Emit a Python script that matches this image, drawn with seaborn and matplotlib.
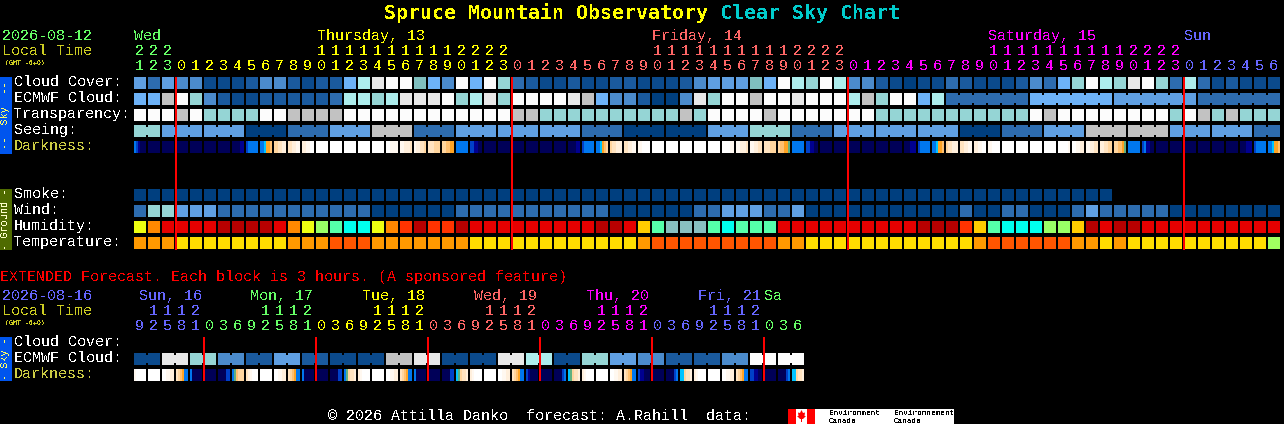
import numpy as np
import matplotlib
matplotlib.use("Agg")
import matplotlib.pyplot as plt
import seaborn as sns
from matplotlib.colors import ListedColormap
from matplotlib.patches import Polygon, Rectangle

W, H = 1284, 424

# ---- colour scales ----
cloud_colors = ["#003F7F", "#0B4A8C", "#1A5A9E", "#2D6CAF", "#4B8BCC", "#5F9FE2", "#6DB2F7",
                "#7FBFBF", "#95D5D5", "#ADEDED", "#C2C2C2", "#E8E8E8", "#FCFCFC"]
humidity_colors = {"Y": "#EEFF11", "O": "#FF8800", "R": "#E60000", "K": "#B80000", "P": "#FF3300",
                   "A": "#FFCC00", "G": "#99FF66", "M": "#55FFAA", "C": "#00FFEE", "T": "#88C0C0"}
temp_colors = {"O": "#FF9900", "Y": "#FFDD00", "D": "#FF5500", "L": "#A0FF60"}
dark_colors = {"W": "#FFFFFF", "V": "#FFF8F0", "U": "#FFEFDC", "T": "#FFE3C0", "S": "#FFD59E",
               "R": "#FFC070", "Q": "#FFA424", "G": "#60B080", "C": "#00C4FF", "B": "#0077EE",
               "N": "#0040C8", "M": "#000090", "L": "#000058"}

# ---- main chart values, one per block ----
cloud_cover = [5, 3, 5, 4, 4, 1, 1, 1, 2, 4, 4, 2, 1, 2, 2, 6, 9, 11, 12, 12, 7,
               6, 4, 12, 6, 12, 8, 3, 2, 1, 1, 2, 1, 1, 2, 2, 1, 1, 1, 2, 4, 5, 5, 5, 7, 6, 12, 9, 8, 12, 9,
               4, 4, 2, 1, 0, 1, 1, 3, 2, 1, 1, 1, 2, 4, 3, 6, 8, 12, 9, 8, 11, 12, 8, 3, 9, 3, 1, 2, 1, 1, 1]
ecmwf_cloud = [6, 6, 10, 12, 8, 4, 2, 1, 1, 2, 2, 2, 2, 2, 3, 9, 9, 8, 9, 11, 11,
               11, 12, 8, 9, 11, 8, 12, 12, 12, 12, 11, 10, 6, 4, 4, 2, 0, 0, 4, 11, 8, 12, 12, 10, 12, 12, 11, 12, 12, 12, 9,
               10, 8, 12, 12, 6, 9, 3, 3, 3, 3, 3, 3, 6, 6, 6, 6, 6, 6, 5, 5, 5, 5, 5, 5, 3, 3, 3, 3, 3, 3]
ecmwf_spans = [1] * 58 + [6, 6, 6, 6]
transparency = [12, 12, 12, 10, 12, 8, 8, 8, 8, 12, 12, 10, 10, 10, 10, 12, 12, 12, 12, 12, 12,
                12, 12, 12, 12, 12, 12, 10, 10, 8, 8, 8, 8, 8, 8, 8, 8, 8, 8, 10, 8, 12, 12, 12, 12, 10, 12, 12, 12, 12, 12, 12,
                12, 8, 8, 8, 8, 8, 8, 8, 8, 8, 8, 8, 12, 10, 12, 12, 12, 12, 12, 12, 12, 12, 8, 12, 10, 8, 10, 8, 8, 8]
seeing_spans = [2] + [3] * 26 + [2]
seeing = [8, 5, 5, 0, 3, 5, 10, 3, 5, 5, 5, 3, 0, 0, 5, 8, 3, 5, 5, 5, 0, 3, 5, 10, 10, 5, 5, 3]
darkness = ["BNMLLL", "LLLLLL", "LLLLLL", "LLLLLL", "LLLLLL", "LLLLLL", "LLLLLL", "LLLLMM", "NBBBBB", "BBCQQR",
            "SSTTUU", "TTUUVV", "UUVVWW", "WWWWWW", "WWWWWW", "WWWWWW", "WWWWWW", "WWWWWW", "WWVVVV", "VVUUUT",
            "VUUTTS", "TTTSSS", "SSRRQQ", "BBBBBB", "NNMMLL", "LLLLLL", "LLLLLL", "LLLLLL", "LLLLLL", "LLLLLL",
            "LLLLLL", "LLLLMM", "NBBBBB", "BBCQRS", "STTUUU", "TTUUVV", "VVWWWW", "WWWWWW", "WWWWWW", "WWWWWW",
            "WWWWWW", "WWWWWW", "WWWWVV", "VVUUUT", "VVUUTT", "TTTSSS", "SRRQQG", "BBBBBB", "NNMMLL", "LLLLLL",
            "LLLLLL", "LLLLLL", "LLLLLL", "LLLLLL", "LLLLLL", "LLLMMM", "NBBBBB", "BBCQQR", "STTUUU", "TTUUVV",
            "UUVVWW", "VVWWWW", "WWWWWW", "WWWWWW", "WWWWWW", "WWWWWW", "WWWWWV", "WWVVUU", "VVUUTT", "UUTTSS",
            "SSRRQG", "BBBBBB", "NBMMLL", "LLLLLL", "LLLLLL", "LLLLLL", "LLLLLL", "LLLLLL", "LLLLLL", "LLLMMM",
            "NBBBBB", "BBCQQR"]
smoke = [0] * 70
wind = [3, 8, 8, 5, 5, 5, 3, 3, 3, 3, 3, 3, 3, 3, 3, 3, 3, 0, 0, 0, 0,
        0, 0, 3, 3, 3, 3, 3, 3, 3, 3, 3, 3, 3, 0, 0, 0, 0, 0, 0, 3, 3, 5, 5, 5, 3, 3, 5, 0, 0, 0, 0,
        0, 0, 0, 0, 0, 0, 0, 3, 0, 0, 3, 3, 0, 0, 0, 3, 5, 3, 3, 3, 3, 3, 0, 0, 0, 0, 0, 0, 0, 0]
humidity = "YORRRRKKKKROYGMCCYOPK" "PPKRRRRRRRRRKKRAMTTTMCMMMRRRRRR" "RRRRKKKPAMCCCGGAKRKKRRRRRRRRRR"
temperature = "OOOYYYYYYYYOOODDDOOOO" "OOOYYYYYYYYYYYYODDDDDDDDDOOYYYY" "YYYYYYYYODDDDDDOOYOYYYYYYYYYYL"

# main header
hours = [21, 22, 23] + list(range(24)) * 3 + list(range(7))
hour_colors = ["#66FF66", "#FFFF00", "#FF6666", "#FF00FF", "#6666FF"]
day_names = ["Wed", "Thursday, 13", "Friday, 14", "Saturday, 15", "Sun"]
day_x = [134, 317, 652, 988, 1184]

# ---- extended forecast ----
ext_ecmwf = [1, 11, 8, 4, 2, 5, 2, 1, 1, 10, 11, 1, 1, 11, 9, 1, 8, 5, 4, 2, 2, 4, 12, 12]
ext_darkness = ["VWWWWW", "WWWWWW", "WWVVUU", "TSRQBB", "BLLLLL", "LLLLLL", "LLLLNN", "BGRSSS",
                "TUVWWW", "WWWWWW", "WWVVUU", "TSRQBB", "BLLLLL", "LLLLLL", "LLLLNN", "BGSTTU",
                "UVWWWW", "WWWWWW", "WWVVUU", "TSRQBB", "BLLLLL", "LLLLLL", "LLLLNN", "CGSTTU",
                "UVWWWW", "WWWWWW", "WWVVUU", "TSRQBB", "NMLLLL", "LLLLLL", "LLLLNB", "CGSTTU",
                "UVWWWW", "WWWWWW", "WWVVUU", "TSRQBB", "NMMLLL", "LLLLLL", "LLLLNB", "CCSTTU",
                "UVWWWW", "WWWWWW", "WWVVUU", "TSRQBB", "NNMMLL", "LLLLLL", "LLLLNB", "CCSTTU"]
ext_hours = [9, 12, 15, 18, 21, 0, 3, 6] * 6
ext_hour_colors = ["#6666FF", "#66FF66", "#FFFF00", "#FF6666", "#FF00FF", "#6666FF", "#66FF66"]
ext_day_names = ["Sun, 16", "Mon, 17", "Tue, 18", "Wed, 19", "Thu, 20", "Fri, 21", "Sa"]
ext_day_x = [139, 250, 362, 474, 586, 698, 764]

# ---- colour codes for the heatmap ----
all_colors = list(cloud_colors)
def add_scale(scale):
    start = len(all_colors)
    all_colors.extend(scale.values())
    return {k: start + i for i, k in enumerate(scale)}
hum_code = add_scale(humidity_colors)
temp_code = add_scale(temp_colors)
dark_code = add_scale(dark_colors)
cmap = ListedColormap(all_colors)

# every block is 6x6 cells of 2 px, plus one gap cell on the right
def fill_row(grid, top, codes, spans=None):
    for i, c in enumerate(codes):
        grid[top:top + 6, i * 7:i * 7 + 6] = c
    if spans:
        start = 0
        for n in spans:
            for i in range(start, start + n - 1):
                grid[top + 1:top + 5, i * 7 + 6] = codes[i]
            start += n

def fill_shaded(grid, top, blocks):
    for i, block in enumerate(blocks):
        for j, ch in enumerate(block):
            grid[top:top + 6, i * 7 + j] = dark_code[ch]

main_grid = np.full((86, 82 * 7), np.nan)
fill_row(main_grid, 0, cloud_cover)
fill_row(main_grid, 8, ecmwf_cloud, ecmwf_spans)
fill_row(main_grid, 16, transparency)
fill_row(main_grid, 24, np.repeat(seeing, seeing_spans), seeing_spans)
fill_shaded(main_grid, 32, darkness)
fill_row(main_grid, 56, smoke)
fill_row(main_grid, 64, wind)
fill_row(main_grid, 72, [hum_code[c] for c in humidity])
fill_row(main_grid, 80, [temp_code[c] for c in temperature])

ext_grid = np.full((22, 48 * 7), np.nan)
fill_row(ext_grid, 8, np.repeat(ext_ecmwf, 2), [2] * 24)
fill_shaded(ext_grid, 16, ext_darkness)

# ---- figure ----
sns.set_theme(style="dark", rc={"figure.facecolor": "black", "axes.facecolor": "black", "text.antialiased": False})
plt.rcParams["font.family"] = ["Liberation Mono", "DejaVu Sans Mono"]
fig = plt.figure(figsize=(W / 100, H / 100), dpi=100, facecolor="black")

def pixel_axes(x, y, w, h):
    a = fig.add_axes([x / W, 1 - (y + h) / H, w / W, h / H])
    a.set_facecolor("black")
    return a

def put(x, y, s, color="white", size=10.8, **kw):
    fig.text(x / W, 1 - y / H, s, color=color, fontsize=size, va="baseline", **kw)

ax = pixel_axes(134, 77, 1148, 172)
sns.heatmap(main_grid, ax=ax, cmap=cmap, vmin=-0.5, vmax=len(all_colors) - 0.5, cbar=False,
            xticklabels=False, yticklabels=False)
midnights = [i * 7 for i, h in enumerate(hours) if h == 0]
ax.vlines(midnights, 0, 86.5, color="#FF0000", lw=1.44, clip_on=False, antialiased=False)

ax2 = pixel_axes(134, 337, 672, 44)
sns.heatmap(ext_grid, ax=ax2, cmap=cmap, vmin=-0.5, vmax=len(all_colors) - 0.5, cbar=False,
            xticklabels=False, yticklabels=False)
ext_midnights = [i * 7 for i, h in enumerate(ext_hours) if h == 0]
ax2.vlines(ext_midnights, 0, 22, color="#FF0000", lw=1.44, clip_on=False, antialiased=False)

# title
put(384, 19, "Spruce Mountain Observatory", "#FFFF00", 14.4, fontweight="bold", family="DejaVu Sans Mono")
put(720, 19, "Clear Sky Chart", "#00CCCC", 14.4, fontweight="bold", family="DejaVu Sans Mono")

# header of the main chart
put(2, 40, "2026-08-12", "#66FF66")
put(2, 55, "Local Time", "#CCCC22")
put(5, 65, "(GMT -6+0)", "#CCCC22", 4.8, family="DejaVu Sans Mono")
for name, x, c in zip(day_names, day_x, hour_colors):
    put(x, 40, name, c)
day = -1
for i, h in enumerate(hours):
    if i == 0 or h == 0:
        day += 1
    x = 139.5 + 14 * i
    if h >= 10:
        put(x, 55, str(h // 10), hour_colors[day], ha="center")
    put(x, 70, str(h % 10), hour_colors[day], ha="center")

for y, s, c in [(86, "Cloud Cover:", "white"), (102, "ECMWF Cloud:", "white"), (118, "Transparency:", "white"),
                (134, "Seeing:", "white"), (150, "Darkness:", "#CCCC44"), (198, "Smoke:", "white"),
                (214, "Wind:", "white"), (230, "Humidity:", "white"), (246, "Temperature:", "white")]:
    put(14, y, s, c)

# side bars
def side_bar(y0, y1, color, s, text_color):
    fig.add_artist(Rectangle((0, 1 - y1 / H), 12 / W, (y1 - y0) / H, transform=fig.transFigure,
                             facecolor=color, edgecolor="none"))
    fig.text(5.5 / W, 1 - (y0 + y1) / 2 / H, s, color=text_color, fontsize=7.4, rotation=90,
             ha="center", va="center")

side_bar(77, 154, "#0055EE", "--  Sky  --", "#FFFF66")
side_bar(189, 250, "#4F6B00", "- Ground -", "#FFFFCC")
side_bar(337, 381, "#0055EE", "- Sky -", "#FFFF66")

# extended part
put(0, 281, "EXTENDED Forecast. Each block is 3 hours. (A sponsored feature)", "#FF0000")
put(2, 300, "2026-08-16", "#6666FF")
put(2, 315, "Local Time", "#CCCC22")
put(5, 325, "(GMT -6+0)", "#CCCC22", 4.8, family="DejaVu Sans Mono")
for name, x, c in zip(ext_day_names, ext_day_x, ext_hour_colors):
    put(x, 300, name, c)
day = 0
for i, h in enumerate(ext_hours):
    if h == 0:
        day += 1
    x = 139.5 + 14 * i
    if h >= 10:
        put(x, 315, str(h // 10), ext_hour_colors[day], ha="center")
    put(x, 330, str(h % 10), ext_hour_colors[day], ha="center")
for y, s, c in [(346, "Cloud Cover:", "white"), (362, "ECMWF Cloud:", "white"), (378, "Darkness:", "#CCCC44")]:
    put(14, y, s, c)

# footer
put(328, 420, "\u00a9 2026 Attilla Danko  forecast: A.Rahill  data:")
fig.add_artist(Rectangle((788 / W, 0), 166 / W, 15 / H, transform=fig.transFigure, facecolor="white", edgecolor="none"))
for x0 in [788, 807]:
    fig.add_artist(Rectangle((x0 / W, 0), 8 / W, 15 / H, transform=fig.transFigure, facecolor="#FF0000", edgecolor="none"))
leaf = [(801.5, 410), (803, 413), (805, 412.5), (804.5, 416), (806, 416), (803, 419), (802, 419), (802, 422),
        (801, 422), (801, 419), (800, 419), (797, 416), (798.5, 416), (798, 412.5), (800, 413)]
fig.add_artist(Polygon([(x / W, 1 - y / H) for x, y in leaf], transform=fig.transFigure, facecolor="#FF0000", edgecolor="none"))
for x0, line1 in [(829, "Environment"), (894, "Environnement")]:
    put(x0, 415, line1, "black", 5.6)
    put(x0, 423, "Canada", "black", 5.6)

fig.savefig("out.png", dpi=100, facecolor="black")
